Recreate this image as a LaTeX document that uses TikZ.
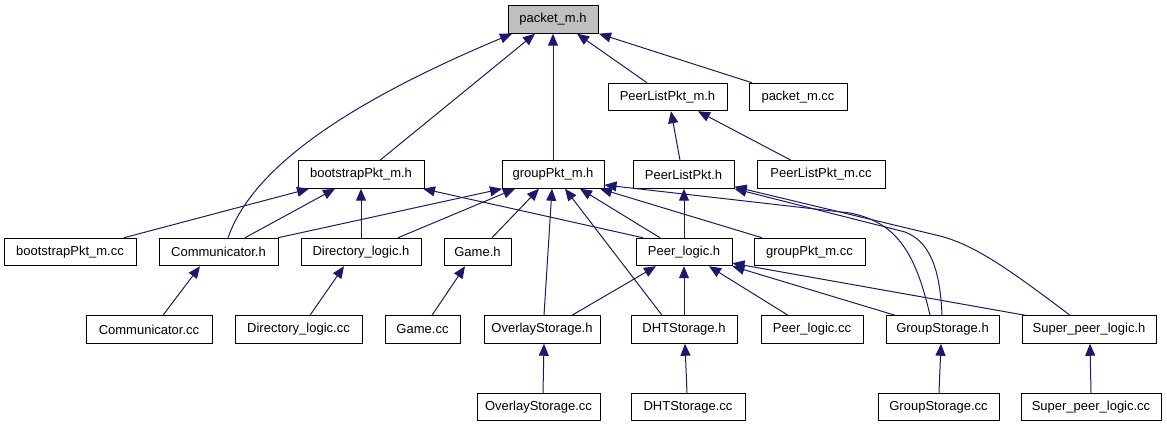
\documentclass[tikz,border=0pt]{standalone}
\usepackage{fontspec}
\setmainfont{Liberation Sans}
\usetikzlibrary{arrows.meta}
\definecolor{edgeblue}{HTML}{191970}
\definecolor{rootgray}{HTML}{BFBFBF}
\newcommand\bx[6][]{\node[box,#1,minimum width=#4-#3] (#2) at ({(#3+#4)/2},#5) {#6};}
\newcommand\edg[4]{\draw[edge] (#1.north -| #2,0) -- (#3.south -| #4,0);}
\begin{document}
\begin{tikzpicture}[x=1pt,y=-1pt,
  box/.style={draw=black,line width=1pt,fill=white,inner sep=0pt,minimum height=27.5pt,font=\fontsize{13}{15}\selectfont},
  edge/.style={draw=edgeblue,line width=1pt,-{Triangle[length=12pt,width=10pt,fill=edgeblue]}}]
\useasboundingbox (0,0) rectangle (1167,427);
% row 1
\bx[fill=rootgray]{pkt}{508}{598}{19.5}{packet\_m.h}
% row 2
\bx{plm}{608}{727}{97}{PeerListPkt\_m.h}
\bx{pktcc}{749}{847}{97}{packet\_m.cc}
% row 3
\bx{boot}{298}{424}{174.5}{bootstrapPkt\_m.h}
\bx{group}{502}{604}{174.5}{groupPkt\_m.h}
\bx{pl}{633}{734}{174.5}{PeerListPkt.h}
\bx{plmcc}{757}{885}{174.5}{PeerListPkt\_m.cc}
% row 4
\bx{bootcc}{4}{136}{252}{bootstrapPkt\_m.cc}
\bx{comm}{159}{278}{252}{Communicator.h}
\bx{dir}{301}{421}{252}{Directory\_logic.h}
\bx{game}{444}{511}{252}{Game.h}
\bx{peer}{636}{732}{252}{Peer\_logic.h}
\bx{groupcc}{754}{865}{252}{groupPkt\_m.cc}
% row 5
\bx{commcc}{86}{212}{329.5}{Communicator.cc}
\bx{dircc}{235}{362}{329.5}{Directory\_logic.cc}
\bx{gamecc}{385}{460}{329.5}{Game.cc}
\bx{overlay}{484}{600}{329.5}{OverlayStorage.h}
\bx{dht}{631}{737}{329.5}{DHTStorage.h}
\bx{peercc}{761}{863}{329.5}{Peer\_logic.cc}
\bx{gstore}{886}{999}{329.5}{GroupStorage.h}
\bx{super}{1022}{1156}{329.5}{Super\_peer\_logic.h}
% row 6
\bx{overlaycc}{477}{600}{407}{OverlayStorage.cc}
\bx{dhtcc}{631}{745}{407}{DHTStorage.cc}
\bx{gstorecc}{878}{999}{407}{GroupStorage.cc}
\bx{supercc}{1021}{1161}{407}{Super\_peer\_logic.cc}
% to packet_m.h
\draw[edge] (comm.north -| 228,0) .. controls (250,175) and (330,110) .. (pkt.south -| 512,0);
\edg{boot}{380}{pkt}{535}
\edg{group}{553}{pkt}{553}
\edg{plm}{647}{pkt}{577}
\edg{pktcc}{752}{pkt}{599}
% to PeerListPkt_m.h
\edg{pl}{680}{plm}{671}
\edg{plmcc}{791}{plm}{698}
% to bootstrapPkt_m.h
\edg{bootcc}{124}{boot}{309}
\edg{comm}{245}{boot}{335}
\edg{dir}{361}{boot}{361}
\edg{peer}{643}{boot}{423}
% to groupPkt_m.h
\edg{comm}{278}{group}{502}
\edg{dir}{398}{group}{515}
\edg{game}{492}{group}{539}
\edg{overlay}{544}{group}{552}
\edg{dht}{662}{group}{565}
\edg{peer}{660}{group}{580}
\edg{groupcc}{762}{group}{600}
\draw[edge] (gstore.north -| 930,0) .. controls (915,250) and (895,222) .. (850,213) -- (group.east |- 0,185);
% to PeerListPkt.h
\edg{peer}{684}{pl}{684}
\draw[edge] (gstore.north -| 942,0) .. controls (940,265) and (928,241) .. (905,232) -- (pl.south east);
\draw[edge] (super.north -| 1070,0) .. controls (1010,270) and (975,245) .. (940,236) -- ([yshift=2pt]pl.south east);
% to Peer_logic.h
\edg{overlay}{572}{peer}{656}
\edg{dht}{684}{peer}{684}
\edg{peercc}{788}{peer}{709}
\draw[edge] (gstore.north -| 895,0) -- (peer.south east);
\draw[edge] (super.north -| 1025,0) -- ([yshift=3pt]peer.south east);
% row 5 to row 4
\edg{commcc}{163}{comm}{200}
\edg{dircc}{310}{dir}{344}
\edg{gamecc}{432}{game}{465}
% row 6 to row 5
\edg{overlaycc}{543}{overlay}{544}
\edg{dhtcc}{687}{dht}{685}
\edg{gstorecc}{939}{gstore}{941}
\edg{supercc}{1091}{super}{1090}
\end{tikzpicture}
\end{document}
